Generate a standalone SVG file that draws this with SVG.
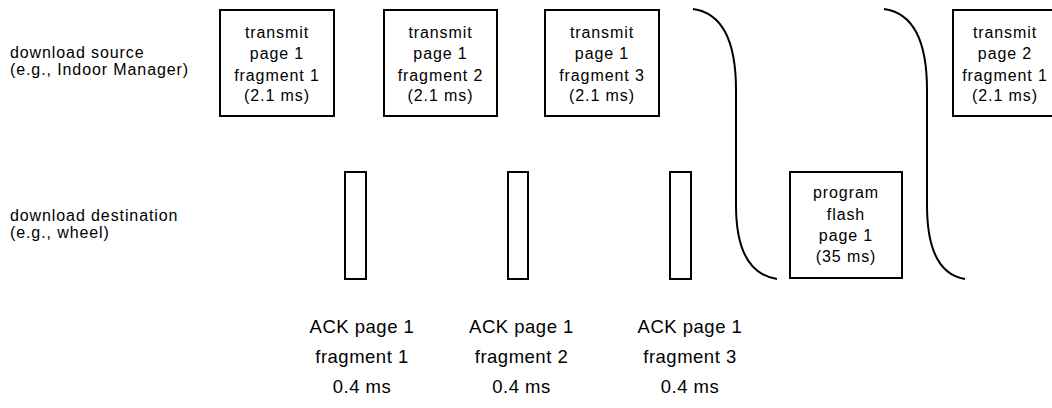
<svg xmlns="http://www.w3.org/2000/svg" width="1052" height="408" viewBox="0 0 1052 408">
  <style>
    .box { fill: #ffffff; stroke: #000000; stroke-width: 2; }
    .brace { fill: none; stroke: #000000; stroke-width: 2; }
    text { font-family: "Liberation Sans", Arial, sans-serif; fill: #000000; }
    .lbl { font-size: 16px; letter-spacing: 0.9px; }
    .in { font-size: 16px; letter-spacing: 0.9px; text-anchor: middle; }
    .ack { font-size: 18.5px; letter-spacing: 0.5px; text-anchor: middle; }
  </style>
  <rect width="1052" height="408" fill="#ffffff"/>

  <!-- row labels -->
  <g id="label-source">
    <text class="lbl" x="10" y="58">download source</text>
    <text class="lbl" x="10" y="75">(e.g., Indoor Manager)</text>
  </g>
  <g id="label-destination">
    <text class="lbl" x="10" y="221">download destination</text>
    <text class="lbl" x="10" y="238">(e.g., wheel)</text>
  </g>

  <!-- source transmissions -->
  <g id="tx-p1-f1">
    <rect class="box" x="220" y="10" width="114" height="106"/>
    <text class="in" x="277" y="38">transmit</text>
    <text class="in" x="277" y="59">page 1</text>
    <text class="in" x="277" y="81">fragment 1</text>
    <text class="in" x="277" y="101">(2.1 ms)</text>
  </g>
  <g id="tx-p1-f2">
    <rect class="box" x="384" y="10" width="113" height="106"/>
    <text class="in" x="440.5" y="38">transmit</text>
    <text class="in" x="440.5" y="59">page 1</text>
    <text class="in" x="440.5" y="81">fragment 2</text>
    <text class="in" x="440.5" y="101">(2.1 ms)</text>
  </g>
  <g id="tx-p1-f3">
    <rect class="box" x="545" y="10" width="114" height="106"/>
    <text class="in" x="602" y="38">transmit</text>
    <text class="in" x="602" y="59">page 1</text>
    <text class="in" x="602" y="81">fragment 3</text>
    <text class="in" x="602" y="101">(2.1 ms)</text>
  </g>
  <g id="tx-p2-f1">
    <rect class="box" x="953" y="10" width="114" height="106"/>
    <text class="in" x="1005" y="38">transmit</text>
    <text class="in" x="1005" y="59">page 2</text>
    <text class="in" x="1005" y="81">fragment 1</text>
    <text class="in" x="1005" y="101">(2.1 ms)</text>
  </g>

  <!-- destination acknowledgements -->
  <g id="ack-f1">
    <rect class="box" x="345" y="172" width="21" height="107"/>
    <text class="ack" x="362" y="333">ACK page 1</text>
    <text class="ack" x="362" y="363">fragment 1</text>
    <text class="ack" x="362" y="393">0.4 ms</text>
  </g>
  <g id="ack-f2">
    <rect class="box" x="508" y="172" width="20" height="107"/>
    <text class="ack" x="521.5" y="333">ACK page 1</text>
    <text class="ack" x="521.5" y="363">fragment 2</text>
    <text class="ack" x="521.5" y="393">0.4 ms</text>
  </g>
  <g id="ack-f3">
    <rect class="box" x="670" y="172" width="21" height="107"/>
    <text class="ack" x="690" y="333">ACK page 1</text>
    <text class="ack" x="690" y="363">fragment 3</text>
    <text class="ack" x="690" y="393">0.4 ms</text>
  </g>

  <g id="program-flash">
    <rect class="box" x="790" y="172" width="112" height="106"/>
    <text class="in" x="846" y="198">program</text>
    <text class="in" x="846" y="220">flash</text>
    <text class="in" x="846" y="241">page 1</text>
    <text class="in" x="846" y="262">(35 ms)</text>
  </g>

  <!-- hand-over braces between source and destination phases -->
  <g id="connectors">
    <path class="brace" d="M 693 9 C 722 13, 736 40, 736 90 L 736 205 C 736 252, 750 275, 777 279"/>
    <path class="brace" d="M 884 9 C 913 13, 927 40, 927 90 L 927 205 C 927 252, 940 275, 965 279"/>
  </g>
</svg>
